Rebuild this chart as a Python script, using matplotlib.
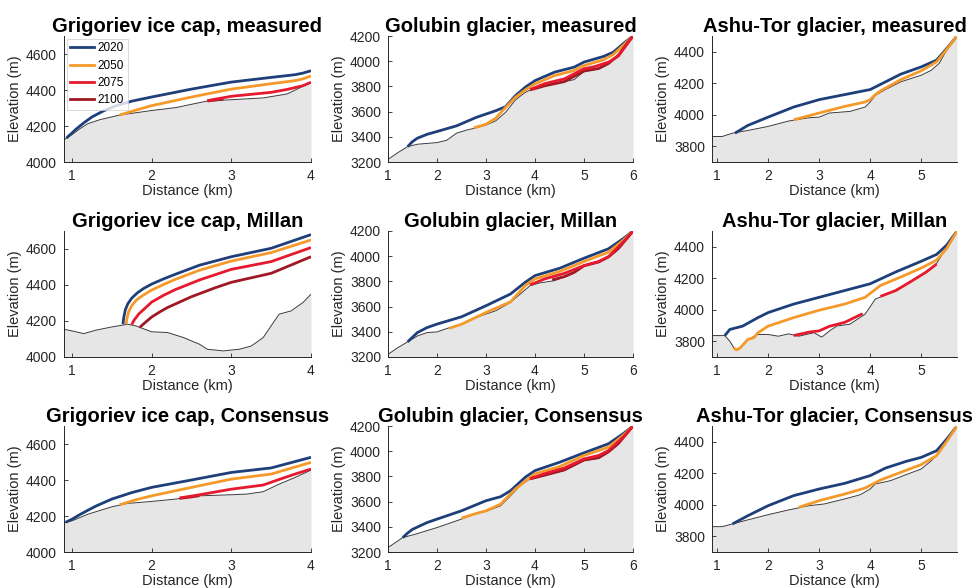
import matplotlib

matplotlib.use("Agg")
import matplotlib.pyplot as plt

plt.rcParams["font.family"] = ["Liberation Sans", "DejaVu Sans"]

YEARS = ["2020", "2050", "2075", "2100"]
YEAR_COLORS = ["#1e3f7a", "#f59a2a", "#e6192e", "#a01824"]
BED_FILL = "#e6e6e6"
BED_LINE = "#3a3a3a"

# ---- Grigoriev ice cap: (distance km, elevation m) ----
grig_meas_bed = [(0.9, 4124), (1.0, 4152), (1.1, 4185), (1.2, 4213), (1.35, 4235), (1.6, 4261),
                 (2.0, 4286), (2.3, 4302), (2.7, 4339), (3.0, 4346), (3.4, 4356), (3.7, 4378),
                 (3.85, 4410), (4.0, 4443)]
grig_meas_2020 = [(0.93, 4133), (1.0, 4161), (1.05, 4182), (1.15, 4218), (1.25, 4250), (1.4, 4285),
                  (1.55, 4312), (1.75, 4338), (2.0, 4361), (2.5, 4405), (3.0, 4444), (3.5, 4470),
                  (3.8, 4485), (3.9, 4494), (4.0, 4507)]
grig_meas_2050 = [(1.6, 4261), (1.8, 4288), (2.0, 4313), (2.5, 4361), (3.0, 4405), (3.5, 4435),
                  (3.8, 4452), (3.9, 4462), (4.0, 4478)]
grig_meas_2075 = [(2.7, 4341), (3.0, 4365), (3.5, 4387), (3.7, 4403), (3.9, 4424), (4.0, 4443)]
grig_meas_2100 = [(2.7, 4339), (2.8, 4344), (2.9, 4350)]

grig_mill_bed = [(0.9, 4154), (1.0, 4145), (1.15, 4130), (1.3, 4149), (1.5, 4167), (1.7, 4182),
                 (1.8, 4173), (2.0, 4140), (2.2, 4136), (2.4, 4108), (2.6, 4071), (2.7, 4043),
                 (2.9, 4034), (3.1, 4043), (3.25, 4061), (3.4, 4108), (3.6, 4238), (3.75, 4256),
                 (3.9, 4303), (4.0, 4349)]
grig_mill_2020 = [(1.64, 4182), (1.65, 4220), (1.67, 4262), (1.70, 4295), (1.75, 4327),
                  (1.82, 4356), (1.9, 4381), (2.0, 4405), (2.15, 4434), (2.3, 4460), (2.6, 4510),
                  (3.0, 4557), (3.5, 4604), (4.0, 4680)]
grig_mill_2050 = [(1.68, 4182), (1.69, 4215), (1.71, 4250), (1.75, 4285), (1.81, 4317),
                  (1.9, 4345), (2.0, 4372), (2.15, 4403), (2.3, 4432), (2.6, 4482), (3.0, 4533),
                  (3.5, 4580), (4.0, 4650)]
grig_mill_2075 = [(1.75, 4180), (1.78, 4205), (1.84, 4240), (1.92, 4272), (2.0, 4305),
                  (2.15, 4343), (2.3, 4375), (2.6, 4428), (3.0, 4487), (3.5, 4530), (4.0, 4608)]
grig_mill_2100 = [(1.85, 4165), (1.92, 4192), (2.0, 4222), (2.1, 4250), (2.2, 4275), (2.5, 4335),
                  (2.8, 4385), (3.0, 4415), (3.5, 4465), (4.0, 4557)]

grig_cons_bed = [(0.9, 4162), (1.0, 4173), (1.2, 4210), (1.5, 4251), (1.7, 4270), (2.0, 4281),
                 (2.3, 4294), (2.6, 4312), (3.0, 4318), (3.2, 4322), (3.4, 4335), (3.6, 4377),
                 (3.8, 4414), (4.0, 4455)]
grig_cons_2020 = [(0.92, 4165), (1.0, 4182), (1.1, 4208), (1.2, 4232), (1.3, 4255), (1.5, 4294),
                  (1.75, 4330), (2.0, 4359), (2.5, 4400), (3.0, 4442), (3.5, 4467), (4.0, 4526)]
grig_cons_2050 = [(1.6, 4262), (1.8, 4290), (2.0, 4312), (2.5, 4359), (3.0, 4405), (3.5, 4433),
                  (4.0, 4498)]
grig_cons_2075 = [(2.35, 4300), (2.6, 4318), (3.0, 4349), (3.4, 4372), (3.6, 4403), (3.8, 4433),
                  (4.0, 4461)]
grig_cons_2100 = [(2.35, 4298), (2.5, 4306), (2.6, 4313)]

# ---- Golubin glacier ----
golu_meas_bed = [(1.0, 3221), (1.2, 3274), (1.4, 3322), (1.6, 3341), (2.0, 3354), (2.2, 3373),
                 (2.4, 3429), (2.6, 3453), (2.8, 3471), (3.0, 3493), (3.2, 3527), (3.4, 3594),
                 (3.6, 3692), (3.8, 3753), (4.0, 3788), (4.4, 3820), (4.8, 3854), (5.0, 3918),
                 (5.3, 3939), (5.5, 3979), (5.7, 4046), (5.9, 4152), (6.0, 4200)]
golu_meas_2020 = [(1.4, 3322), (1.5, 3362), (1.6, 3389), (1.8, 3420), (2.0, 3442), (2.4, 3487),
                  (2.8, 3554), (3.2, 3607), (3.4, 3639), (3.6, 3726), (3.8, 3793), (4.0, 3846),
                  (4.4, 3913), (4.8, 3953), (5.0, 3993), (5.4, 4038), (5.6, 4072), (5.8, 4139),
                  (6.0, 4200)]
golu_meas_2050 = [(2.75, 3471), (3.0, 3500), (3.2, 3548), (3.4, 3633), (3.6, 3713), (3.8, 3772),
                  (4.0, 3820), (4.4, 3886), (4.8, 3926), (5.0, 3966), (5.4, 4011), (5.6, 4054),
                  (5.8, 4126), (6.0, 4200)]
golu_meas_2075 = [(3.9, 3775), (4.2, 3822), (4.6, 3860), (5.0, 3940), (5.2, 3955), (5.5, 3993),
                  (5.7, 4040), (5.9, 4146), (6.0, 4200)]
golu_meas_2100 = [(3.9, 3772), (4.2, 3805), (4.6, 3838), (5.0, 3922), (5.3, 3942), (5.5, 3982),
                  (5.7, 4047), (5.9, 4152), (6.0, 4200)]

golu_mill_bed = [(1.0, 3221), (1.2, 3274), (1.4, 3320), (1.6, 3367), (1.8, 3394), (2.0, 3399),
                 (2.2, 3426), (2.5, 3461), (2.8, 3514), (3.2, 3567), (3.5, 3633), (3.7, 3700),
                 (3.9, 3766), (4.1, 3788), (4.4, 3806), (4.8, 3867), (5.0, 3920), (5.3, 3952),
                 (5.5, 3992), (5.7, 4059), (5.9, 4152), (6.0, 4200)]
golu_mill_2020 = [(1.4, 3320), (1.6, 3394), (1.8, 3434), (2.0, 3461), (2.5, 3519), (3.0, 3607),
                  (3.5, 3700), (3.8, 3793), (4.0, 3846), (4.5, 3904), (5.0, 3984), (5.5, 4059),
                  (5.8, 4139), (6.0, 4200)]
golu_mill_2050 = [(2.25, 3428), (2.5, 3460), (3.0, 3553), (3.5, 3638), (3.8, 3766), (4.0, 3820),
                  (4.5, 3878), (5.0, 3958), (5.5, 4032), (5.8, 4126), (6.0, 4200)]
golu_mill_2075 = [(3.9, 3772), (4.2, 3820), (4.6, 3864), (5.0, 3926), (5.3, 3958), (5.5, 3997),
                  (5.8, 4112), (6.0, 4200)]
golu_mill_2100 = [(4.35, 3812), (4.6, 3838), (4.8, 3872), (5.0, 3924), (5.3, 3954), (5.5, 3994),
                  (5.7, 4060), (5.9, 4152), (6.0, 4200)]

golu_cons_bed = [(1.0, 3235), (1.2, 3288), (1.3, 3314), (1.6, 3346), (2.0, 3394), (2.5, 3461),
                 (2.8, 3506), (3.0, 3522), (3.3, 3567), (3.5, 3646), (3.7, 3727), (3.9, 3780),
                 (4.2, 3806), (4.6, 3846), (5.0, 3926), (5.3, 3944), (5.5, 3992), (5.7, 4059),
                 (5.9, 4152), (6.0, 4200)]
golu_cons_2020 = [(1.3, 3314), (1.4, 3350), (1.5, 3380), (1.8, 3434), (2.0, 3461), (2.5, 3527),
                  (3.0, 3607), (3.3, 3639), (3.5, 3686), (3.8, 3793), (4.0, 3846), (4.5, 3912),
                  (5.0, 3987), (5.5, 4059), (5.8, 4139), (6.0, 4200)]
golu_cons_2050 = [(2.5, 3469), (2.8, 3506), (3.0, 3527), (3.3, 3580), (3.6, 3700), (3.8, 3761),
                  (4.0, 3820), (4.5, 3878), (5.0, 3966), (5.5, 4032), (5.8, 4126), (6.0, 4200)]
golu_cons_2075 = [(3.9, 3782), (4.2, 3822), (4.6, 3867), (5.0, 3939), (5.3, 3966), (5.5, 4005),
                  (5.8, 4112), (6.0, 4200)]
golu_cons_2100 = [(3.9, 3780), (4.2, 3810), (4.6, 3852), (5.0, 3930), (5.3, 3948), (5.5, 3995),
                  (5.7, 4060), (5.9, 4153), (6.0, 4200)]

# ---- Ashu-Tor glacier ----
ashu_meas_bed = [(0.9, 3862), (1.1, 3862), (1.3, 3883), (1.6, 3900), (2.0, 3926), (2.4, 3960),
                 (2.8, 3981), (3.0, 3985), (3.2, 4011), (3.6, 4021), (3.9, 4049), (4.0, 4081),
                 (4.1, 4123), (4.3, 4160), (4.6, 4209), (5.0, 4251), (5.2, 4283), (5.35, 4326),
                 (5.5, 4411), (5.7, 4496)]
ashu_meas_2020 = [(1.35, 3883), (1.6, 3932), (2.0, 3985), (2.5, 4049), (3.0, 4096), (3.5, 4128),
                  (4.0, 4160), (4.3, 4209), (4.6, 4258), (5.0, 4304), (5.3, 4347), (5.5, 4421),
                  (5.7, 4500)]
ashu_meas_2050 = [(2.5, 3968), (3.0, 4011), (3.5, 4053), (3.9, 4081), (4.0, 4096), (4.1, 4128),
                  (4.2, 4151), (4.6, 4223), (5.0, 4279), (5.3, 4336), (5.5, 4415), (5.7, 4500)]

ashu_mill_bed = [(0.9, 3836), (1.15, 3836), (1.25, 3800), (1.35, 3746), (1.45, 3757), (1.6, 3811),
                 (1.8, 3843), (2.0, 3843), (2.2, 3832), (2.4, 3847), (2.6, 3832), (2.9, 3854),
                 (3.05, 3826), (3.2, 3865), (3.35, 3897), (3.6, 3908), (3.9, 3972), (4.1, 4068),
                 (4.3, 4094), (4.6, 4143), (5.0, 4218), (5.3, 4293), (5.5, 4400), (5.7, 4496)]
ashu_mill_2020 = [(1.15, 3836), (1.25, 3875), (1.5, 3896), (1.8, 3950), (2.0, 3982), (2.5, 4036),
                  (3.0, 4079), (3.5, 4122), (4.0, 4165), (4.5, 4240), (5.0, 4308), (5.3, 4351),
                  (5.5, 4411), (5.7, 4500)]
ashu_mill_2050 = [(1.32, 3758), (1.38, 3745), (1.45, 3757), (1.6, 3811), (1.72, 3823), (1.8, 3854),
                  (2.0, 3896), (2.5, 3950), (3.0, 3997), (3.5, 4036), (3.9, 4079), (4.2, 4154),
                  (4.6, 4208), (5.0, 4265), (5.3, 4315), (5.5, 4390), (5.7, 4500)]
ashu_mill_2075_lower = [(2.5, 3836), (2.8, 3858), (3.0, 3866), (3.2, 3895), (3.5, 3920),
                        (3.85, 3975)]
ashu_mill_2075_upper = [(4.2, 4085), (4.5, 4122), (4.8, 4180), (5.1, 4240), (5.3, 4290)]

ashu_cons_bed = [(0.9, 3861), (1.1, 3861), (1.3, 3878), (1.6, 3904), (2.0, 3937), (2.4, 3967),
                 (2.8, 3994), (3.1, 4005), (3.5, 4037), (3.8, 4063), (4.0, 4100), (4.1, 4132),
                 (4.4, 4153), (4.7, 4191), (5.0, 4227), (5.2, 4280), (5.35, 4333), (5.5, 4412),
                 (5.7, 4500)]
ashu_cons_2020 = [(1.3, 3878), (1.6, 3930), (2.0, 3994), (2.5, 4058), (3.0, 4100), (3.5, 4136),
                  (4.0, 4185), (4.3, 4233), (4.7, 4275), (5.0, 4301), (5.3, 4343), (5.5, 4417),
                  (5.7, 4500)]
ashu_cons_2050 = [(2.6, 3984), (3.0, 4026), (3.5, 4068), (3.9, 4106), (4.2, 4157), (4.6, 4206),
                  (5.0, 4255), (5.3, 4312), (5.5, 4403), (5.7, 4500)]

GLACIERS = ["Grigoriev ice cap", "Golubin glacier", "Ashu-Tor glacier"]
SOURCES = ["measured", "Millan", "Consensus"]
X_LIMITS = [(0.9, 4.0), (1.0, 6.0), (0.9, 5.7)]
Y_LIMITS = [(4000, 4700), (3200, 4200), (3700, 4500)]
X_TICKS = [[1, 2, 3, 4], [1, 2, 3, 4, 5, 6], [1, 2, 3, 4, 5]]
Y_TICKS = [[4000, 4200, 4400, 4600], [3200, 3400, 3600, 3800, 4000, 4200], [3800, 4000, 4200, 4400]]

# panels[row][col] -> (bed, [(year index, profile), ...])
panels = [
    [
        (grig_meas_bed, [(0, grig_meas_2020), (1, grig_meas_2050), (3, grig_meas_2100), (2, grig_meas_2075)]),
        (golu_meas_bed, [(0, golu_meas_2020), (1, golu_meas_2050), (3, golu_meas_2100), (2, golu_meas_2075)]),
        (ashu_meas_bed, [(0, ashu_meas_2020), (1, ashu_meas_2050)]),
    ],
    [
        (grig_mill_bed, [(0, grig_mill_2020), (1, grig_mill_2050), (2, grig_mill_2075), (3, grig_mill_2100)]),
        (golu_mill_bed, [(0, golu_mill_2020), (1, golu_mill_2050), (3, golu_mill_2100), (2, golu_mill_2075)]),
        (ashu_mill_bed, [(0, ashu_mill_2020), (1, ashu_mill_2050), (2, ashu_mill_2075_lower),
                         (2, ashu_mill_2075_upper)]),
    ],
    [
        (grig_cons_bed, [(0, grig_cons_2020), (1, grig_cons_2050), (3, grig_cons_2100), (2, grig_cons_2075)]),
        (golu_cons_bed, [(0, golu_cons_2020), (1, golu_cons_2050), (3, golu_cons_2100), (2, golu_cons_2075)]),
        (ashu_cons_bed, [(0, ashu_cons_2020), (1, ashu_cons_2050)]),
    ],
]

W, H = 979, 588
COL_LEFT = [64, 388, 712]
COL_WIDTH = [247, 245, 245]
ROW_TOP = [36, 231, 426]
AX_HEIGHT = 126

fig = plt.figure(figsize=(W / 100, H / 100), dpi=100)

for r in range(3):
    for c in range(3):
        bed, profiles = panels[r][c]
        ax = fig.add_axes([COL_LEFT[c] / W, 1 - (ROW_TOP[r] + AX_HEIGHT) / H,
                           COL_WIDTH[c] / W, AX_HEIGHT / H])
        y0, y1 = Y_LIMITS[c]
        bx, by = zip(*bed)
        ax.fill_between(bx, by, y0, color=BED_FILL, lw=0, zorder=1)
        ax.plot(bx, by, color=BED_LINE, lw=0.7, zorder=2)
        for k, prof in profiles:
            px, py = zip(*prof)
            ax.plot(px, py, color=YEAR_COLORS[k], lw=2.0, solid_capstyle="butt",
                    solid_joinstyle="round", zorder=3)

        ax.set_xlim(*X_LIMITS[c])
        ax.set_ylim(y0, y1)
        ax.set_xticks(X_TICKS[c])
        ax.set_yticks(Y_TICKS[c])
        ax.tick_params(direction="in", length=3, width=0.6, labelsize=10, colors="#262626", pad=5)
        for side in ("top", "right"):
            ax.spines[side].set_visible(False)
        for side in ("left", "bottom"):
            ax.spines[side].set_color("#262626")
            ax.spines[side].set_linewidth(0.7)
        ax.set_xlabel("Distance (km)", fontsize=10.5, color="#262626", labelpad=0.5)
        ax.set_ylabel("Elevation (m)", fontsize=10.5, color="#262626", labelpad=3)
        ax.set_title(f"{GLACIERS[c]}, {SOURCES[r]}", fontsize=14.5, fontweight="bold", pad=3)

        if r == 0 and c == 0:
            handles = [plt.Line2D([], [], color=col, lw=2) for col in YEAR_COLORS]
            leg = ax.legend(handles, YEARS, loc="upper left", fontsize=8.5, frameon=True,
                            fancybox=False, handlelength=2.0, handletextpad=0.3,
                            borderpad=0.3, labelspacing=0.45, borderaxespad=0.25)
            leg.get_frame().set_edgecolor("#c8c8c8")
            leg.get_frame().set_linewidth(0.6)

fig.savefig("out.png", dpi=100, facecolor="white")
